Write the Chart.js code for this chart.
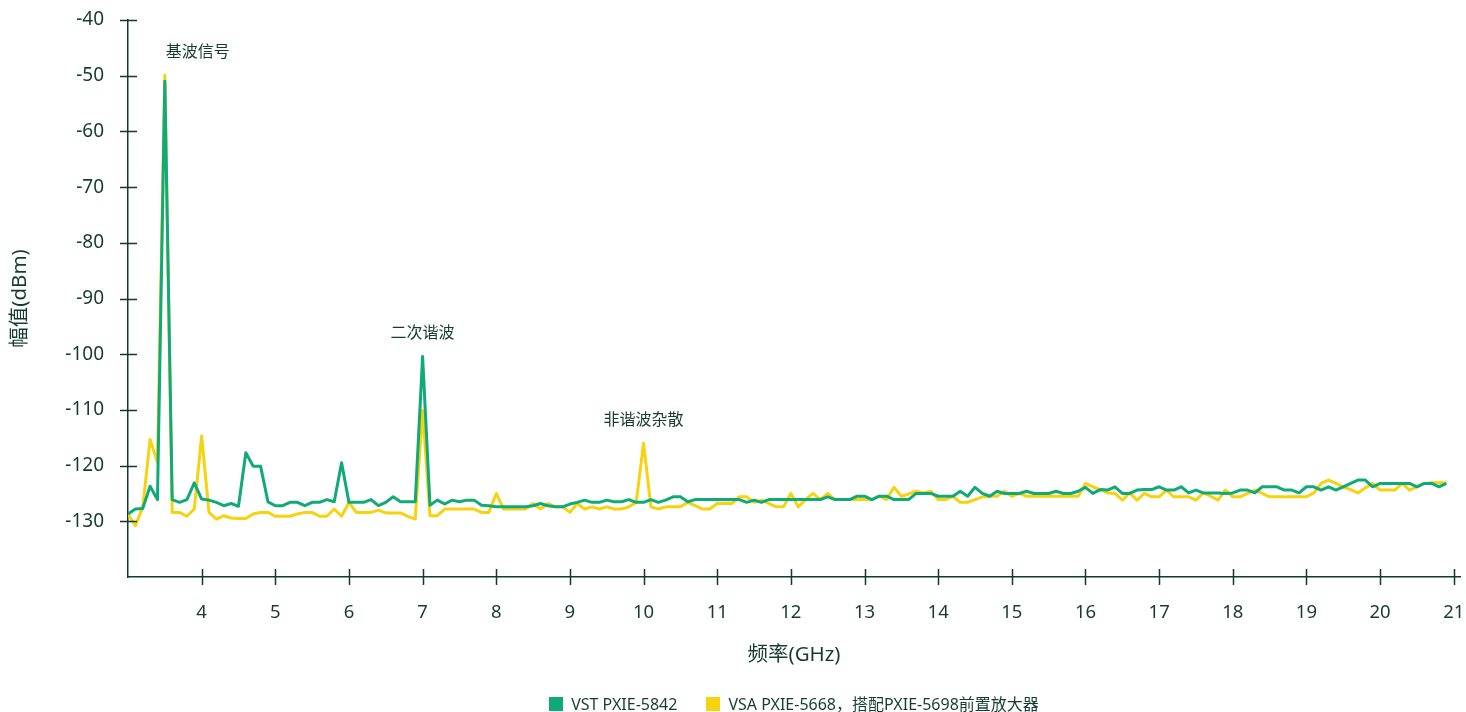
<!DOCTYPE html>
<html>
<head>
<meta charset="utf-8">
<script src="https://cdn.jsdelivr.net/npm/chart.js@4.4.1/dist/chart.umd.min.js"></script>
<style>
  html, body { margin: 0; padding: 0; background: #ffffff; }
  canvas { display: block; }
</style>
</head>
<body>
<canvas id="spectrum" width="1466" height="712"></canvas>
<script>
// Frequency grid (GHz)
const freqGHz = [
  3.0,3.1,3.2,3.3,3.4,3.5,3.6,3.7,3.8,3.9,
  4.0,4.1,4.2,4.3,4.4,4.5,4.6,4.7,4.8,4.9,
  5.0,5.1,5.2,5.3,5.4,5.5,5.6,5.7,5.8,5.9,
  6.0,6.1,6.2,6.3,6.4,6.5,6.6,6.7,6.8,6.9,
  7.0,7.1,7.2,7.3,7.4,7.5,7.6,7.7,7.8,7.9,
  8.0,8.1,8.2,8.3,8.4,8.5,8.6,8.7,8.8,8.9,
  9.0,9.1,9.2,9.3,9.4,9.5,9.6,9.7,9.8,9.9,
  10.0,10.1,10.2,10.3,10.4,10.5,10.6,10.7,10.8,10.9,
  11.0,11.1,11.2,11.3,11.4,11.5,11.6,11.7,11.8,11.9,
  12.0,12.1,12.2,12.3,12.4,12.5,12.6,12.7,12.8,12.9,
  13.0,13.1,13.2,13.3,13.4,13.5,13.6,13.7,13.8,13.9,
  14.0,14.1,14.2,14.3,14.4,14.5,14.6,14.7,14.8,14.9,
  15.0,15.1,15.2,15.3,15.4,15.5,15.6,15.7,15.8,15.9,
  16.0,16.1,16.2,16.3,16.4,16.5,16.6,16.7,16.8,16.9,
  17.0,17.1,17.2,17.3,17.4,17.5,17.6,17.7,17.8,17.9,
  18.0,18.1,18.2,18.3,18.4,18.5,18.6,18.7,18.8,18.9,
  19.0,19.1,19.2,19.3,19.4,19.5,19.6,19.7,19.8,19.9,
  20.0,20.1,20.2,20.3,20.4,20.5,20.6,20.7,20.8,20.9
];

// VST PXIE-5842 amplitude (dBm)
const vstDbm = [
  -128.7,-127.8,-127.7,-123.7,-126.1,-51.0,-126.1,-126.6,-126.1,-123.1,
  -126.0,-126.2,-126.6,-127.2,-126.8,-127.3,-117.7,-120.1,-120.1,-126.5,
  -127.2,-127.2,-126.6,-126.6,-127.2,-126.6,-126.6,-126.1,-126.5,-119.5,
  -126.6,-126.6,-126.6,-126.1,-127.2,-126.6,-125.6,-126.5,-126.5,-126.5,
  -100.4,-127.1,-126.2,-126.9,-126.2,-126.5,-126.2,-126.2,-127.1,-127.2,
  -127.4,-127.4,-127.4,-127.4,-127.4,-127.2,-126.8,-127.2,-127.4,-127.4,
  -126.9,-126.6,-126.2,-126.6,-126.6,-126.2,-126.5,-126.5,-126.1,-126.6,
  -126.6,-126.1,-126.6,-126.2,-125.6,-125.6,-126.5,-126.1,-126.1,-126.1,
  -126.1,-126.1,-126.1,-126.1,-126.6,-126.2,-126.6,-126.1,-126.1,-126.1,
  -126.1,-126.1,-126.1,-126.1,-126.1,-125.6,-126.1,-126.1,-126.1,-125.5,
  -125.5,-126.1,-125.5,-125.5,-126.1,-126.1,-126.1,-125.0,-125.0,-125.0,
  -125.5,-125.5,-125.5,-124.6,-125.5,-123.9,-125.0,-125.5,-124.6,-125.0,
  -125.0,-125.0,-124.6,-125.0,-125.0,-125.0,-124.6,-125.0,-125.0,-124.6,
  -123.9,-125.0,-124.3,-124.4,-123.8,-125.0,-125.0,-124.4,-124.3,-124.3,
  -123.8,-124.4,-124.4,-123.8,-124.9,-124.4,-124.9,-124.9,-124.9,-125.0,
  -124.9,-124.4,-124.4,-124.9,-123.8,-123.8,-123.8,-124.4,-124.4,-124.9,
  -123.8,-123.8,-124.4,-123.8,-124.4,-123.8,-123.2,-122.6,-122.6,-123.8,
  -123.2,-123.2,-123.2,-123.2,-123.2,-123.8,-123.2,-123.2,-123.8,-123.2
];

// VSA PXIE-5668 with PXIE-5698 preamplifier amplitude (dBm)
const vsaDbm = [
  -128.7,-130.8,-127.5,-115.3,-119.4,-49.9,-128.4,-128.4,-129.1,-127.8,
  -114.7,-128.4,-129.6,-129.0,-129.4,-129.5,-129.5,-128.7,-128.4,-128.4,
  -129.1,-129.1,-129.1,-128.7,-128.4,-128.4,-129.1,-129.1,-127.8,-129.1,
  -126.6,-128.4,-128.4,-128.4,-128.0,-128.5,-128.5,-128.5,-129.1,-129.6,
  -110.1,-129.0,-129.0,-127.8,-127.8,-127.8,-127.8,-127.8,-128.4,-128.4,
  -125.0,-127.8,-127.8,-127.8,-127.8,-126.8,-127.8,-126.8,-127.4,-127.4,
  -128.4,-126.8,-127.8,-127.4,-127.8,-127.4,-127.8,-127.8,-127.4,-126.6,
  -116.0,-127.4,-127.8,-127.4,-127.4,-127.4,-126.6,-127.2,-127.8,-127.8,
  -126.8,-126.8,-126.8,-125.6,-125.6,-126.6,-126.2,-126.8,-127.4,-127.4,
  -125.0,-127.4,-126.1,-125.0,-126.1,-125.0,-126.1,-126.1,-126.1,-126.1,
  -126.1,-126.1,-125.5,-126.1,-123.9,-125.5,-125.1,-124.6,-124.9,-124.6,
  -126.1,-126.1,-125.5,-126.6,-126.6,-126.1,-125.6,-125.5,-125.5,-124.6,
  -125.5,-125.0,-125.5,-125.5,-125.5,-125.5,-125.5,-125.5,-125.5,-125.5,
  -123.2,-123.8,-124.3,-124.9,-125.0,-126.2,-124.9,-126.2,-125.0,-125.6,
  -125.6,-124.4,-125.6,-125.6,-125.6,-126.2,-124.9,-125.5,-126.2,-124.4,
  -125.6,-125.6,-125.0,-124.4,-125.0,-125.6,-125.6,-125.6,-125.6,-125.6,
  -125.6,-124.9,-123.2,-122.6,-123.2,-123.8,-124.3,-124.9,-124.0,-123.2,
  -124.4,-124.4,-124.4,-123.2,-124.4,-123.8,-123.2,-123.1,-123.1,-123.1
];

const seriesNames = ['VST PXIE-5842', 'VSA PXIE-5668，搭配PXIE-5698前置放大器'];
const xTickValues = [4,5,6,7,8,9,10,11,12,13,14,15,16,17,18,19,20,21];
const yTickValues = [-130,-120,-110,-100,-90,-80,-70,-60,-50,-40];

// Peak callouts
const calloutText = ['基波信号', '二次谐波', '非谐波杂散'];
const calloutFreq = [3.5, 7.0, 10.0];
const calloutAlign = ['left', 'center', 'center'];

const INK = '#163c31';
const AXIS = '#0f3a2d';
const GREEN = '#10a978';
const YELLOW = '#f6d20f';
const FONT = "'Noto Sans', 'Noto Sans CJK SC', sans-serif";

// Tick marks that cross the axis lines
const crossTicks = {
  id: 'crossTicks',
  afterDraw(chart) {
    const {ctx, scales: {x, y}} = chart;
    ctx.save();
    ctx.strokeStyle = AXIS;
    ctx.lineWidth = 1.5;
    ctx.beginPath();
    const ax = x.left, ay = y.bottom;
    yTickValues.forEach(v => {
      const py = Math.round(y.getPixelForValue(v)) + 0.5;
      ctx.moveTo(ax - 8, py); ctx.lineTo(ax + 9, py);
    });
    xTickValues.forEach(v => {
      const px = Math.round(x.getPixelForValue(v)) + 0.5;
      ctx.moveTo(px, ay - 8); ctx.lineTo(px, ay + 8);
    });
    ctx.stroke();
    ctx.restore();
  }
};

// Text labels above the spectral peaks
const peakCallouts = {
  id: 'peakCallouts',
  afterDatasetsDraw(chart) {
    const {ctx, scales: {x, y}} = chart;
    ctx.save();
    ctx.font = '16px ' + FONT;
    ctx.fillStyle = INK;
    ctx.textBaseline = 'middle';
    calloutFreq.forEach((f, i) => {
      const idx = freqGHz.indexOf(f);
      const top = Math.max(vstDbm[idx], vsaDbm[idx]);
      ctx.textAlign = calloutAlign[i];
      ctx.fillText(calloutText[i], x.getPixelForValue(f) + (calloutAlign[i] === 'left' ? 1 : 0), y.getPixelForValue(top) - 23);
    });
    ctx.restore();
  }
};

// Legend row at the bottom, centred under the plot
const bottomLegend = {
  id: 'bottomLegend',
  afterDraw(chart) {
    const {ctx, chartArea} = chart;
    const box = 14, textGap = 8, itemGap = 29, cy = 704;
    ctx.save();
    ctx.font = '16px ' + FONT;
    const widths = chart.data.datasets.map(d => box + textGap + ctx.measureText(d.label).width);
    const total = widths.reduce((a, b) => a + b, 0) + itemGap * (widths.length - 1);
    let cx = (chartArea.left + chartArea.right) / 2 - total / 2;
    chart.data.datasets.forEach((d, i) => {
      ctx.fillStyle = d.borderColor;
      ctx.fillRect(Math.round(cx), cy - box / 2, box, box);
      ctx.fillStyle = INK;
      ctx.textAlign = 'left';
      ctx.textBaseline = 'middle';
      ctx.fillText(d.label, cx + box + textGap, cy + 1);
      cx += widths[i] + itemGap;
    });
    ctx.restore();
  }
};

new Chart(document.getElementById('spectrum'), {
  type: 'line',
  data: {
    labels: freqGHz,
    datasets: [
      { label: seriesNames[0], data: vstDbm, borderColor: GREEN, backgroundColor: GREEN },
      { label: seriesNames[1], data: vsaDbm, borderColor: YELLOW, backgroundColor: YELLOW }
    ]
  },
  options: {
    responsive: false,
    animation: false,
    layout: { padding: { top: 20, right: 6, left: 0, bottom: 0 } },
    elements: {
      point: { radius: 0 },
      line: { borderWidth: 3, tension: 0, borderJoinStyle: 'round' }
    },
    plugins: { legend: { display: false }, tooltip: { enabled: false } },
    scales: {
      x: {
        type: 'linear',
        min: 3,
        max: 21.085,
        afterBuildTicks: s => { s.ticks = xTickValues.map(v => ({ value: v })); },
        afterFit: s => { s.height = 135; },
        grid: { display: true, drawOnChartArea: false, drawTicks: true, tickLength: 25, tickColor: 'rgba(0,0,0,0)' },
        border: { display: true, color: AXIS, width: 1.5 },
        ticks: { color: INK, font: { family: FONT, size: 18.5 }, padding: 0, maxRotation: 0, autoSkip: false },
        title: { display: true, text: '频率(GHz)', color: INK, font: { family: FONT, size: 20.5 }, padding: { top: 0, bottom: 45 } }
      },
      y: {
        min: -140,
        max: -40,
        afterBuildTicks: s => { s.ticks = yTickValues.map(v => ({ value: v })); },
        afterFit: s => { s.width = 128; },
        grid: { display: true, drawOnChartArea: false, drawTicks: true, tickLength: 24, tickColor: 'rgba(0,0,0,0)' },
        border: { display: true, color: AXIS, width: 1.5 },
        ticks: { color: INK, font: { family: FONT, size: 19 }, padding: 0 },
        title: { display: true, text: '幅值(dBm)', color: INK, font: { family: FONT, size: 20.5 }, padding: { top: 8, bottom: 0 } }
      }
    }
  },
  plugins: [crossTicks, peakCallouts, bottomLegend]
});
</script>
</body>
</html>
